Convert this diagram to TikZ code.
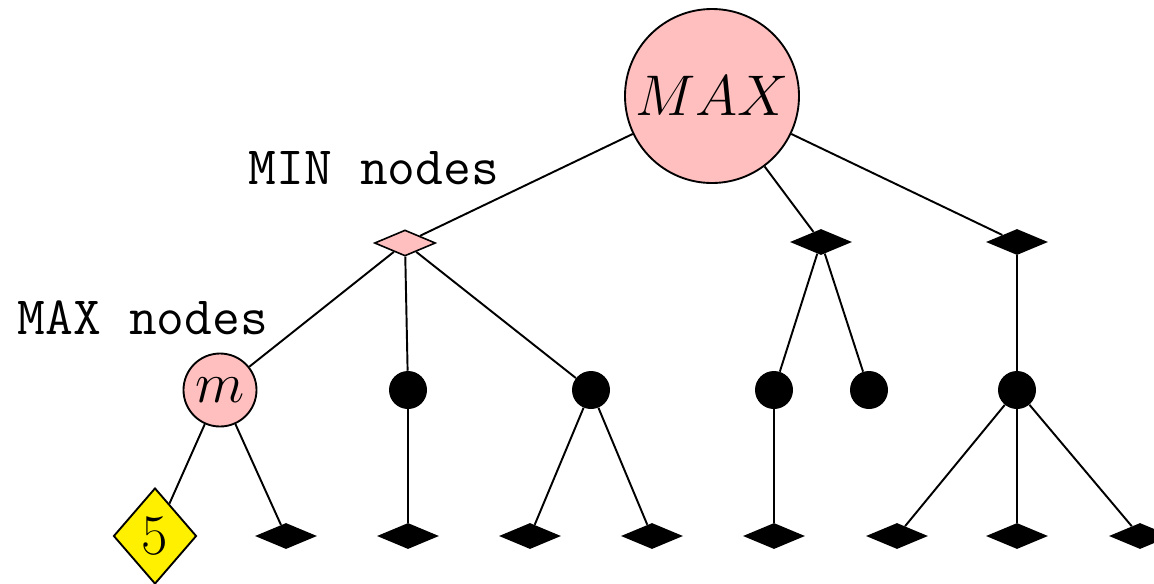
\RequirePackage{fix-cm}
\documentclass[tikz,border=0pt]{standalone}
\usetikzlibrary{shapes.geometric}
\definecolor{nodepink}{RGB}{255,191,191}
\definecolor{leafyellow}{RGB}{255,240,0}
\tikzset{
  edge/.style={line width=1.45pt},
  bigfont/.style={font=\fontsize{43}{47}\selectfont},
  rootnode/.style={circle, draw, line width=1.4pt, fill=nodepink, inner sep=0pt, minimum size=130.5pt, bigfont},
  mnode/.style={circle, draw, line width=1.4pt, fill=nodepink, inner sep=0pt, minimum size=54.75pt, bigfont},
  dot/.style={circle, fill=black, inner sep=0pt, minimum size=28.5pt},
  minpink/.style={diamond, draw, line width=1.2pt, fill=nodepink, inner sep=0pt, minimum width=45.75pt, minimum height=19.5pt},
  mindark/.style={diamond, fill=black, inner sep=0pt, minimum width=46.5pt, minimum height=19.5pt},
  leafval/.style={diamond, draw, line width=1.4pt, fill=leafyellow, inner sep=0pt, minimum width=62.25pt, minimum height=72pt, bigfont},
  tag/.style={anchor=base, inner sep=0pt, font=\fontsize{40.5}{44}\selectfont\ttfamily}
}
\begin{document}
\begin{tikzpicture}[x=0.75pt, y=-0.75pt]
  \useasboundingbox (0,0) rectangle (1154,583);

  % root
  \node[rootnode] (root) at (712,96) {$MAX$};

  % first level (MIN)
  \node[minpink] (a) at (405,243) {};
  \node[mindark] (b) at (821,242) {};
  \node[mindark] (c) at (1017,242) {};

  % second level (MAX)
  \node[mnode] (a1) at (220,390) {$m$};
  \node[dot] (a2) at (408,390) {};
  \node[dot] (a3) at (591,390) {};
  \node[dot] (b1) at (774,390) {};
  \node[dot] (b2) at (869,390) {};
  \node[dot] (c1) at (1017,390) {};

  % third level (leaves)
  \node[leafval] (l1) at (155,536) {$5$};
  \node[mindark] (l2) at (286,536) {};
  \node[mindark] (l3) at (408,536) {};
  \node[mindark] (l4) at (530,536) {};
  \node[mindark] (l5) at (652,536) {};
  \node[mindark] (l6) at (774,536) {};
  \node[mindark] (l7) at (897,536) {};
  \node[mindark] (l8) at (1017,536) {};
  \node[mindark] (l9) at (1140,536) {};

  % labels
  \node[tag] (minlabel) at (374,184) {MIN nodes};
  \node[tag] (maxlabel) at (143,334) {MAX nodes};

  % edges
  \draw[edge] (root) -- (a);
  \draw[edge] (root) -- (b);
  \draw[edge] (root) -- (c);
  \draw[edge] (a) -- (a1);
  \draw[edge] (a) -- (a2);
  \draw[edge] (a) -- (a3);
  \draw[edge] (b) -- (b1);
  \draw[edge] (b) -- (b2);
  \draw[edge] (c) -- (c1);
  \draw[edge] (a1) -- (l1);
  \draw[edge] (a1) -- (l2);
  \draw[edge] (a2) -- (l3);
  \draw[edge] (a3) -- (l4);
  \draw[edge] (a3) -- (l5);
  \draw[edge] (b1) -- (l6);
  \draw[edge] (c1) -- (l7);
  \draw[edge] (c1) -- (l8);
  \draw[edge] (c1) -- (l9);
\end{tikzpicture}
\end{document}
